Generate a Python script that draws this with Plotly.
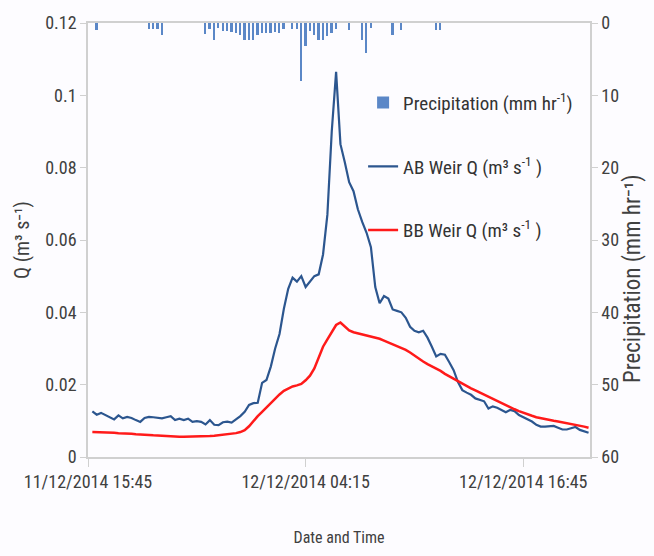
import pandas as pd
import plotly.graph_objects as go

# 15-minute discharge record, 11/12/2014 16:00 -> 12/12/2014 20:30
times = pd.date_range("2014-12-11 16:00", "2014-12-12 20:30", freq="15min")

ab_weir_q = [
    0.0126, 0.0117, 0.0122, 0.0116, 0.0112, 0.0104, 0.0115, 0.0107, 0.0111, 0.0108,
    0.0102, 0.0097, 0.0108, 0.0111, 0.0110, 0.0109, 0.0107, 0.0110, 0.0113, 0.0102,
    0.0106, 0.0102, 0.0106, 0.0097, 0.0099, 0.0097, 0.0090, 0.0102, 0.0089, 0.0088,
    0.0096, 0.0098, 0.0095, 0.0104, 0.0113, 0.0125, 0.0144, 0.0149, 0.0150, 0.0205,
    0.0213, 0.0250, 0.0300, 0.0340, 0.0410, 0.0465, 0.0496, 0.0485, 0.0500, 0.0470,
    0.0485, 0.0500, 0.0505, 0.0560, 0.0670, 0.0900, 0.1065, 0.0865, 0.0815, 0.0760,
    0.0735, 0.0685, 0.0650, 0.0620, 0.0580, 0.0470, 0.0425, 0.0445, 0.0438, 0.0408,
    0.0404, 0.0400, 0.0385, 0.0360, 0.0349, 0.0345, 0.0349, 0.0330, 0.0305, 0.0278,
    0.0285, 0.0283, 0.0262, 0.0240, 0.0207, 0.0185, 0.0178, 0.0172, 0.0162, 0.0157,
    0.0154, 0.0134, 0.0140, 0.0136, 0.0130, 0.0124, 0.0130, 0.0127, 0.0116, 0.0110,
    0.0104, 0.0098, 0.0089, 0.0084, 0.0084, 0.0084, 0.0086, 0.0081, 0.0076, 0.0076,
    0.0079, 0.0083, 0.0075, 0.0071, 0.0067,
]

bb_weir_q = [
    0.0069, 0.0069, 0.0068, 0.0068, 0.0067, 0.0067, 0.0066, 0.0066, 0.0065, 0.0064,
    0.0063, 0.0063, 0.0062, 0.0061, 0.0060, 0.0059, 0.0058, 0.0057, 0.0056, 0.0056,
    0.0056, 0.0056, 0.0056, 0.0057, 0.0057, 0.0056, 0.0058, 0.0058, 0.0059, 0.0060,
    0.0061, 0.0062, 0.0064, 0.0066, 0.0069, 0.0074, 0.0085, 0.0100, 0.0113, 0.0125,
    0.0137, 0.0150, 0.0162, 0.0173, 0.0183, 0.0190, 0.0195, 0.0198, 0.0202, 0.0212,
    0.0225, 0.0245, 0.0275, 0.0305, 0.0325, 0.0345, 0.0365, 0.0372, 0.0362, 0.0350,
    0.0345, 0.0342, 0.0340, 0.0337, 0.0334, 0.0330, 0.0327, 0.0322, 0.0317, 0.0313,
    0.0308, 0.0302, 0.0296, 0.0289, 0.0280, 0.0271, 0.0264, 0.0257, 0.0251, 0.0246,
    0.0238, 0.0230, 0.0223, 0.0216, 0.0209, 0.0203, 0.0197, 0.0190, 0.0184, 0.0178,
    0.0172, 0.0166, 0.0160, 0.0154, 0.0149, 0.0143, 0.0138, 0.0132, 0.0127, 0.0122,
    0.0118, 0.0114, 0.0110, 0.0107, 0.0105, 0.0102, 0.0100, 0.0098, 0.0096, 0.0094,
    0.0091, 0.0089, 0.0087, 0.0084, 0.0081,
]

precip_times = [
    "2014-12-11 16:15", "2014-12-11 19:15", "2014-12-11 19:30", "2014-12-11 19:45",
    "2014-12-11 20:00", "2014-12-11 22:30", "2014-12-11 22:45", "2014-12-11 23:00",
    "2014-12-11 23:15", "2014-12-11 23:30", "2014-12-11 23:45", "2014-12-12 00:00",
    "2014-12-12 00:15", "2014-12-12 00:30", "2014-12-12 00:45", "2014-12-12 01:00",
    "2014-12-12 01:15", "2014-12-12 01:30", "2014-12-12 01:45", "2014-12-12 02:00",
    "2014-12-12 02:15", "2014-12-12 02:30", "2014-12-12 02:45", "2014-12-12 03:00",
    "2014-12-12 03:30", "2014-12-12 03:45", "2014-12-12 04:00", "2014-12-12 04:15",
    "2014-12-12 04:30", "2014-12-12 04:45", "2014-12-12 05:00", "2014-12-12 05:15",
    "2014-12-12 05:30", "2014-12-12 05:45", "2014-12-12 06:00", "2014-12-12 06:45",
    "2014-12-12 07:30", "2014-12-12 07:45", "2014-12-12 08:00", "2014-12-12 09:15",
    "2014-12-12 09:45", "2014-12-12 11:45", "2014-12-12 12:00",
]
precipitation = [
    0.9, 0.8, 0.8, 0.8,
    1.6, 1.5, 0.8, 2.4,
    0.7, 1.1, 1.1, 1.2,
    1.4, 1.6, 2.4, 2.4,
    2.4, 1.6, 1.4, 1.4,
    1.4, 1.2, 1.4, 0.8,
    0.8, 0.8, 8.0, 3.2,
    1.1, 1.6, 2.3, 2.4,
    1.8, 1.4, 0.8, 0.9,
    2.3, 4.1, 0.7, 1.6,
    0.9, 0.9, 0.9,
]

x_tick_vals = ["2014-12-11 15:45", "2014-12-12 04:15", "2014-12-12 16:45"]
x_tick_text = ["11/12/2014 15:45", "12/12/2014 04:15", "12/12/2014 16:45"]

FONT = "Liberation Sans Narrow, Arial Narrow, Roboto Condensed, Roboto, sans-serif"
AX = "#d0d0d0"
TXT = "#404040"

fig = go.Figure()
fig.add_trace(go.Bar(
    x=precip_times, y=precipitation, yaxis="y2",
    name="Precipitation (mm hr<sup>-1</sup>)",
    marker=dict(color="#5b87c7", line=dict(width=0)),
    width=15 * 60 * 1000 * 0.42,
    legendgroup="p",
))
fig.add_trace(go.Scatter(
    x=times, y=ab_weir_q, mode="lines",
    name="AB Weir Q (m³ s<sup>-1</sup> )",
    line=dict(color="#2c568f", width=2.2),
    legendgroup="a",
))
fig.add_trace(go.Scatter(
    x=times, y=bb_weir_q, mode="lines",
    name="BB Weir Q (m³ s<sup>-1</sup> )",
    line=dict(color="#ff1a1a", width=2.5),
    legendgroup="b",
))

fig.update_layout(
    width=654, height=556,
    margin=dict(l=88, r=64, t=18, b=98),
    paper_bgcolor="#fdfcff", plot_bgcolor="#fdfcff",
    font=dict(family=FONT, size=16, color=TXT),
    showlegend=True,
    legend=dict(
        x=0.548, y=0.86, xanchor="left", yanchor="top",
        bgcolor="rgba(0,0,0,0)", font=dict(size=19, color="#333333"),
        traceorder="grouped", tracegroupgap=36, itemwidth=30,
    ),
    xaxis=dict(
        type="date",
        range=["2014-12-11 15:45", "2014-12-12 20:35"],
        tickmode="array", tickvals=x_tick_vals, ticktext=x_tick_text,
        ticks="outside", ticklen=8, tickcolor=AX,
        showline=True, linecolor=AX, linewidth=1.5, mirror=True,
        showgrid=False, zeroline=False,
        tickfont=dict(size=18),
        title=dict(text="Date and Time", font=dict(size=16), standoff=40),
    ),
    yaxis=dict(
        range=[0, 0.12], tickmode="array",
        tickvals=[0, 0.02, 0.04, 0.06, 0.08, 0.1, 0.12],
        ticktext=["0", "0.02", "0.04", "0.06", "0.08", "0.1", "0.12"],
        ticks="outside", ticklen=6, tickcolor=AX,
        showline=True, linecolor=AX, linewidth=1.5,
        showgrid=False, zeroline=False,
        tickfont=dict(size=18),
        title=dict(text="Q (m³ s⁻¹)", font=dict(size=20), standoff=10),
    ),
    yaxis2=dict(
        overlaying="y", side="right",
        range=[60, 0], tickmode="array",
        tickvals=[0, 10, 20, 30, 40, 50, 60],
        ticks="outside", ticklen=6, tickcolor=AX,
        showline=True, linecolor=AX, linewidth=1.5,
        showgrid=False, zeroline=False,
        tickfont=dict(size=18),
    ),
    annotations=[dict(
        text="Precipitation (mm hr⁻¹)", textangle=-90,
        xref="paper", yref="paper", x=1.0837, y=0.41,
        xanchor="center", yanchor="middle", showarrow=False,
        font=dict(size=23, color=TXT),
    )],
    bargap=0,
)

fig.write_html("out.html")
